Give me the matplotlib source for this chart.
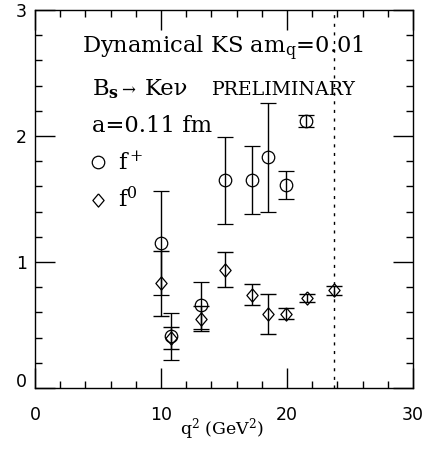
import matplotlib
matplotlib.use("Agg")
import matplotlib.pyplot as plt
from matplotlib.ticker import MultipleLocator
import matplotlib.transforms as mtransforms

plt.rcParams['mathtext.fontset'] = 'dejavuserif'

# Data
q2_plus = [10.0, 10.8, 13.2, 15.1, 17.25, 18.5, 19.9, 21.5]
fplus = [1.15, 0.41, 0.655, 1.65, 1.65, 1.83, 1.61, 2.12]
fplus_err = [0.41, 0.185, 0.19, 0.345, 0.272, 0.43, 0.11, 0.05]

q2_zero = [10.0, 10.8, 13.2, 15.1, 17.25, 18.5, 19.9, 21.55, 23.75]
fzero = [0.83, 0.395, 0.55, 0.94, 0.74, 0.59, 0.59, 0.715, 0.775]
fzero_err = [0.255, 0.088, 0.10, 0.136, 0.083, 0.16, 0.045, 0.03, 0.035]

q2_max = 23.75

fig = plt.figure(figsize=(4.27, 4.49), dpi=100)
ax = fig.add_axes([35/427, 61/449, 378/427, 378/449])

diamond = [(0, 1), (0.85, 0), (0, -1), (-0.85, 0), (0, 1)]

ax.errorbar(q2_plus, fplus, yerr=fplus_err, fmt='o', mfc='none', mec='black',
            ms=9, mew=0.9, ecolor='black', elinewidth=1.0, capsize=6, capthick=1.0)
ax.errorbar(q2_zero, fzero, yerr=fzero_err, fmt='none', ecolor='black',
            elinewidth=1.0, capsize=6, capthick=1.0)
ax.plot(q2_zero, fzero, linestyle='none', marker=diamond, mfc='none', mec='black',
        ms=9.5, mew=0.9)

ax.axvline(q2_max, color='black', lw=1.0, linestyle=(0, (2.2, 4.0)))

ax.set_xlim(0, 30)
ax.set_ylim(0, 3)
ax.xaxis.set_major_locator(MultipleLocator(10))
ax.xaxis.set_minor_locator(MultipleLocator(2))
ax.yaxis.set_major_locator(MultipleLocator(1))
ax.yaxis.set_minor_locator(MultipleLocator(0.2))
ax.tick_params(which='both', direction='in', top=True, right=True, width=1.0)
ax.tick_params(which='major', length=14.4)
ax.tick_params(which='minor', length=5)
ax.tick_params(axis='x', pad=13, labelsize=12.5)
ax.tick_params(axis='y', pad=6, labelsize=12.5)
for s in ax.spines.values():
    s.set_linewidth(1.0)

fig.canvas.draw()
lbls = ax.get_yticklabels()
for lb in lbls:
    if lb.get_text() == '0':
        lb.set_transform(lb.get_transform() + mtransforms.ScaledTranslation(0, 8/100, fig.dpi_scale_trans))

ax.set_xlabel(r'q$^2$ (GeV$^2$)', family='DejaVu Serif', fontsize=12.5, va='top')
ax.xaxis.set_label_coords(0.495, -0.074)

tf = dict(family='DejaVu Serif', fontsize=16.3, va='baseline', ha='left')
ax.text(3.7, 2.659, r'Dynamical KS am$_\mathrm{q}$=0.01', **tf)
ax.text(4.5, 2.325, r'B$_\mathbf{s}$', **tf)
ax.text(6.8, 2.325, '→', family='DejaVu Serif', fontsize=12, va='baseline', ha='left')
ax.text(8.73, 2.325, 'Keν', **tf)
ax.text(13.95, 2.325, 'PRELIMINARY', family='DejaVu Serif', fontsize=13.7,
        va='baseline', ha='left')
ax.text(4.5, 2.032, 'a=0.11 fm', **tf)
ax.text(6.6, 1.730, r'f$^+$', **tf)
ax.text(6.6, 1.437, r'f$^0$', **tf)
ax.plot([5.0], [1.79], marker='o', mfc='none', mec='black', ms=9, mew=0.9, ls='none')
ax.plot([5.0], [1.49], marker=diamond, mfc='none', mec='black', ms=9.5, mew=0.9, ls='none')

fig.savefig('out.png', dpi=100)
